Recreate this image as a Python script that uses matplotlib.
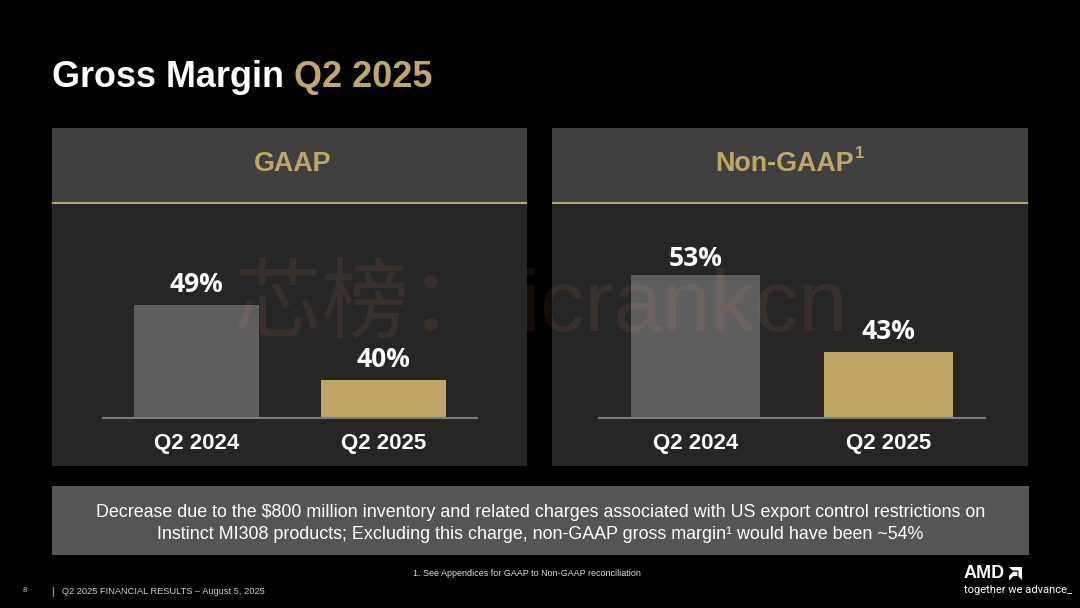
import matplotlib
matplotlib.use("Agg")
import matplotlib.pyplot as plt
from matplotlib.patches import Rectangle, Polygon

W, H = 1080, 608
GOLD = "#BFA867"
GREY = "#5E5E5E"

categories = ["Q2 2024", "Q2 2025"]
gaap_values = [49, 40]
nongaap_values = [53, 43]
bar_colors = [GREY, GOLD]
gaap_label_gaps = [5, 5]
nongaap_label_gaps = [2.5, 5]

SANS = "Liberation Sans"
fig = plt.figure(figsize=(W / 100, H / 100), dpi=100, facecolor="black")

bg = fig.add_axes([0, 0, 1, 1], zorder=0)
bg.set_xlim(0, W)
bg.set_ylim(H, 0)
bg.axis("off")


def px_rect(x0, y0, x1, y1, color):
    bg.add_patch(Rectangle((x0, y0), x1 - x0, y1 - y0, fc=color, ec="none"))


def panel(x0, x1, title, title_x):
    px_rect(x0, 128, x1, 466, "#262626")
    px_rect(x0, 128, x1, 202, "#404040")
    px_rect(x0, 201.5, x1, 203.5, GOLD)
    bg.text(title_x, 164, title, color=GOLD,
            family=SANS, weight="bold", fontsize=19.4, ha="center", va="center")


panel(52, 527, "GAAP", 292.5)
panel(552, 1028, "Non-GAAP", 784.5)
bg.text(859.5, 153, "1", color=GOLD, family=SANS, weight="bold", fontsize=12, ha="center", va="center")


def bars(x0, x1, values, px_per_pct, base_value, gaps):
    top_px, base_px = 208, 418
    ax = fig.add_axes([x0 / W, 1 - base_px / H, (x1 - x0) / W, (base_px - top_px) / H], zorder=1)
    ax.patch.set_alpha(0)
    ax.bar(range(len(values)), values, width=0.668, color=bar_colors, zorder=2)
    ax.set_xlim(-0.5, 1.5)
    ax.set_ylim(base_value, base_value + (base_px - top_px) / px_per_pct)
    for s in ("top", "left", "right"):
        ax.spines[s].set_visible(False)
    ax.spines["bottom"].set_color("#7A7A7A")
    ax.spines["bottom"].set_linewidth(1.5)
    ax.spines["bottom"].set_zorder(3)
    ax.set_yticks([])
    ax.set_xticks(range(len(categories)))
    ax.set_xticklabels(categories, color="white", family=SANS, weight="bold", fontsize=16)
    ax.tick_params(axis="x", length=0, pad=11)
    for i, v in enumerate(values):
        ax.annotate(f"{v}%", (i, v), xytext=(0, gaps[i]), textcoords="offset points",
                    ha="center", va="bottom", color="white", family="Open Sans",
                    weight="bold", fontsize=19)
    return ax


bars(103, 477, gaap_values, 8.33, 35.44, gaap_label_gaps)
bars(598.6, 984.8, nongaap_values, 7.7, 34.43, nongaap_label_gaps)

# Title
bg.text(52, 77.5, "Gross Margin", color="white", family=SANS, weight="bold", fontsize=25.9,
        ha="left", va="center")
bg.text(294, 77.5, "Q2 2025", color=GOLD, family=SANS, weight="bold", fontsize=25.9,
        ha="left", va="center")

# Note box
px_rect(52, 486, 1029, 555, "#555555")
bg.text(540.5, 512.4, "Decrease due to the $800 million inventory and related charges associated with US export control restrictions on",
        color="white", family=SANS, fontsize=12.9, ha="center", va="center")
bg.text(540, 534.8, "Instinct MI308 products; Excluding this charge, non-GAAP gross margin¹ would have been ~54%",
        color="white", family=SANS, fontsize=12.9, ha="center", va="center")

# Footer
bg.text(527, 573, "1. See Appendices for GAAP to Non-GAAP reconciliation", color="#DDDDDD", family=SANS,
        fontsize=6.5, ha="center", va="center")
bg.text(25, 590, "8", color="#CCCCCC", family=SANS, fontsize=5.5, ha="center", va="center")
bg.text(52.5, 592, "|", color="#DDDDDD", family=SANS, fontsize=7, ha="center", va="center")
bg.text(62, 592, "Q2 2025 FINANCIAL RESULTS – August 5, 2025", color="#CCCCCC", family=SANS,
        fontsize=6.7, ha="left", va="center")

# AMD logo
bg.text(964, 573.5, "AMD", color="white", family=SANS, weight="bold", fontsize=13,
        ha="left", va="center")
bg.add_patch(Polygon([(1009, 567), (1022, 567), (1022, 580), (1018.5, 576.5), (1018.5, 570.5), (1012.5, 570.5)],
                     fc="white", ec="none"))
bg.add_patch(Polygon([(1009, 576), (1013, 571.7), (1017.5, 571.7), (1017.5, 576), (1013.5, 576), (1009.5, 580), (1009, 580)],
                     fc="white", ec="none"))
bg.text(964, 590, "together we advance_", color="white", family="Roboto", fontsize=8,
        ha="left", va="center")

# Watermark
fig.text(540 / W, 1 - 309 / H, "芯榜： icrankcn", color="#FF9A6A", alpha=0.09,
         family=["Liberation Sans", "Noto Sans CJK SC"], fontsize=63, ha="center", va="center", zorder=5)

fig.savefig("out.png", dpi=100, facecolor="black")
